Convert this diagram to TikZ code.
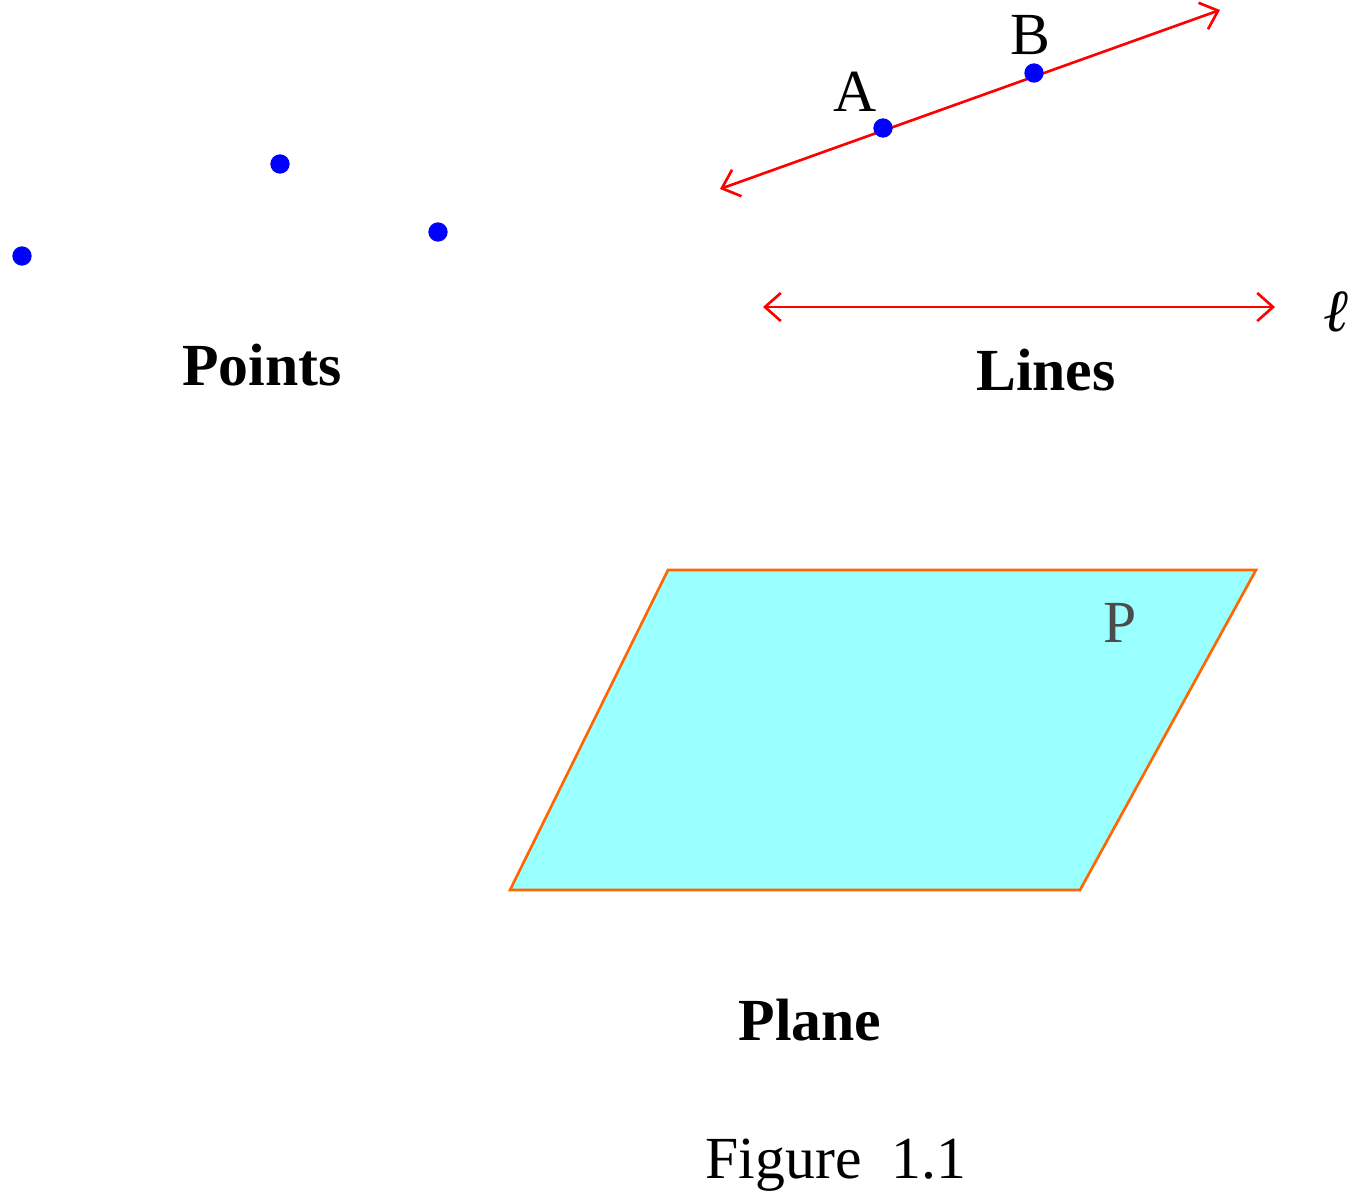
\documentclass[tikz,border=0pt]{standalone}
\usepackage{fontspec}
\setmainfont{Liberation Serif}
\usetikzlibrary{arrows.meta}
\definecolor{planefill}{RGB}{153,255,255}
\definecolor{planeedge}{RGB}{255,102,0}
\begin{document}
\begin{tikzpicture}[x=0.02cm,y=-0.02cm,
  pt/.style={circle,fill=blue,inner sep=0pt,minimum size=11pt},
  lbl/.style={font=\fontsize{34}{40}\selectfont},
  title/.style={font=\fontsize{34}{40}\selectfont\bfseries},
  redline/.style={draw=red,line width=1.5pt,{Straight Barb[length=9pt,width=16pt]}-{Straight Barb[length=9pt,width=16pt]}}]
\useasboundingbox (0,0) rectangle (1366,1200);
\node[pt] (p1) at (22,256) {};
\node[pt] (p2) at (280,164) {};
\node[pt] (p3) at (438,232) {};
\node[title] (tp) at (262,365) {Points};
\coordinate (l1) at (720,189);
\coordinate (l2) at (1220,10);
\draw[redline] (l1) -- (l2);
\node[pt] (a) at (883,128) {};
\node[pt] (b) at (1034,73) {};
\node[lbl] (la) at (855,92) {A};
\node[lbl] (lb) at (1030,35) {B};
\coordinate (m1) at (763,307);
\coordinate (m2) at (1275,307);
\draw[redline] (m1) -- (m2);
\node[lbl] (ll) at (1336,312) {\itshape ℓ};
\node[title] (tl) at (1046,370) {Lines};
\draw[fill=planefill,draw=planeedge,line width=1.5pt] (668,570) -- (1256,570) -- (1080,890) -- (510,890) -- cycle;
\node[lbl,text=black!70] (lp) at (1120,623) {P};
\node[title] (tpl) at (810,1020) {Plane};
\node[lbl] (fig) at (836,1165) {Figure\ \ 1.1};
\end{tikzpicture}
\end{document}
